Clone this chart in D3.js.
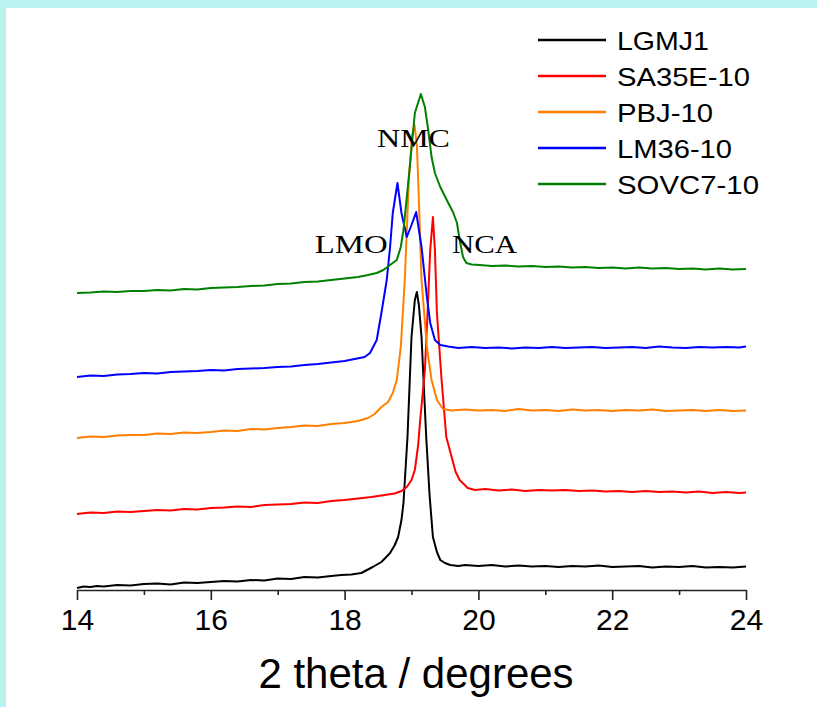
<!DOCTYPE html>
<html>
<head>
<meta charset="utf-8">
<script src="https://cdn.jsdelivr.net/npm/d3@7"></script>
<style>
  body { margin: 0; background: #fff; }
  svg { display: block; }
</style>
</head>
<body>
<svg id="chart" width="817" height="707"></svg>
<script>
// series: [2theta, intensity (arb. units, stacked)]
const lgmj1 = [[14.0,2],[14.1,3.5],[14.2,3],[14.3,4],[14.4,3.5],[14.6,5],[14.8,4.5],[15.0,6],[15.2,6.5],[15.4,5.5],[15.6,7.5],[15.8,7],[16.0,8],[16.2,9],[16.4,8.5],[16.6,10],[16.8,9.5],[17.0,11.5],[17.2,11],[17.4,13],[17.6,12.5],[17.8,14],[17.95,15],[18.1,15.5],[18.25,17],[18.42,23],[18.55,28],[18.68,37],[18.75,45],[18.80,53],[18.85,70],[18.88,87],[18.94,153],[19.0,253],[19.05,290],[19.08,298],[19.11,285],[19.15,253],[19.22,153],[19.27,95],[19.32,53],[19.38,38],[19.43,30],[19.5,27],[19.58,25],[19.7,24],[19.8,25],[20.0,24],[20.2,25],[20.4,23.5],[20.6,24.5],[20.8,23.5],[21.0,24],[21.2,23],[21.4,24],[21.6,23.5],[21.8,24.5],[22.0,23],[22.2,23.5],[22.4,24],[22.6,22.5],[22.8,23.5],[23.0,23],[23.2,24],[23.4,22.5],[23.6,23],[23.8,22.5],[24.0,23.5]];
const sa35e = [[14.0,76],[14.2,77.5],[14.4,77],[14.6,78.5],[14.8,78],[15.0,79],[15.2,80],[15.4,79.5],[15.6,81],[15.8,80.5],[16.0,82],[16.2,82.5],[16.4,83.5],[16.6,83],[16.8,85],[17.0,85.5],[17.2,86],[17.4,87.5],[17.6,87],[17.8,89],[18.0,90],[18.2,91.5],[18.4,93],[18.6,95],[18.75,96.5],[18.85,99],[18.93,103],[19.0,110],[19.05,120],[19.1,145],[19.13,170],[19.2,220],[19.24,277],[19.28,340],[19.32,373],[19.35,340],[19.38,277],[19.45,210],[19.52,153],[19.6,133],[19.66,118],[19.72,110],[19.84,102],[19.95,100],[20.1,101],[20.3,99.5],[20.5,100.5],[20.7,99],[20.9,100],[21.1,99.5],[21.3,100],[21.5,99],[21.7,99.5],[21.9,98.5],[22.1,99],[22.3,98],[22.5,99],[22.7,98],[22.9,98.5],[23.1,97.5],[23.3,98.5],[23.5,97],[23.7,98],[23.9,97],[24.0,97.5]];
const pbj = [[14.0,152],[14.2,153.5],[14.4,153],[14.6,154.5],[14.8,155],[15.0,155],[15.2,156.5],[15.4,156],[15.6,157.5],[15.8,157],[16.0,158],[16.2,159.5],[16.4,159],[16.6,161],[16.8,160.5],[17.0,162],[17.2,163],[17.4,164.5],[17.6,164],[17.8,166],[18.0,167],[18.2,169],[18.35,172],[18.45,176],[18.55,183],[18.65,188],[18.72,197],[18.78,210],[18.84,243],[18.9,310],[18.96,410],[19.01,455],[19.045,465],[19.08,445],[19.1,410],[19.15,310],[19.23,243],[19.3,210],[19.38,190],[19.47,181],[19.6,179.5],[19.8,180.5],[20.0,179.5],[20.2,180],[20.4,179],[20.6,181],[20.8,179.5],[21.0,180],[21.2,179],[21.4,180.5],[21.6,179.5],[21.8,180],[22.0,179],[22.2,180],[22.4,179.5],[22.6,180.5],[22.8,179],[23.0,179.5],[23.2,180],[23.4,179],[23.6,180],[23.8,179],[24.0,179.5]];
const lm36 = [[14.0,213],[14.2,214.5],[14.4,214],[14.6,215.5],[14.8,216],[15.0,217],[15.2,216.5],[15.4,218],[15.6,218.5],[15.8,219],[16.0,220],[16.2,219.5],[16.4,221],[16.6,221.5],[16.8,222],[17.0,223],[17.2,223.5],[17.4,225],[17.6,226],[17.8,227.5],[18.0,229],[18.15,231],[18.3,233],[18.38,237],[18.48,250],[18.55,277],[18.63,310],[18.68,343],[18.72,377],[18.79,407],[18.85,377],[18.93,353],[19.0,365],[19.07,378],[19.15,343],[19.23,293],[19.28,267],[19.35,250],[19.43,245],[19.55,243.5],[19.7,242],[19.9,243],[20.1,242],[20.3,242.5],[20.5,241.5],[20.7,242.5],[20.9,242],[21.1,243],[21.3,242],[21.5,242.5],[21.7,243],[21.9,242],[22.1,242.5],[22.3,243],[22.5,242],[22.7,243.5],[22.9,242.5],[23.1,242],[23.3,243],[23.5,242.5],[23.7,243],[23.9,242.5],[24.0,243.5]];
const sovc7 = [[14.0,297],[14.2,297.5],[14.4,298.5],[14.6,298],[14.8,299],[15.0,299],[15.2,300],[15.4,299.5],[15.6,301],[15.8,300.5],[16.0,302],[16.2,302.5],[16.4,303],[16.6,304],[16.8,304.5],[17.0,306],[17.2,306.5],[17.4,308],[17.6,308.5],[17.8,310],[18.0,311.5],[18.2,313],[18.35,315],[18.48,317],[18.58,320],[18.68,325],[18.78,330],[18.84,343],[18.88,360],[18.93,393],[18.98,427],[19.05,477],[19.14,496],[19.2,483],[19.25,460],[19.3,433],[19.35,417],[19.43,403],[19.55,387],[19.62,378],[19.68,367],[19.72,350],[19.77,333],[19.82,327],[19.9,325.5],[20.02,325],[20.2,324],[20.4,324.5],[20.6,323.5],[20.8,324],[21.0,323],[21.2,323.5],[21.4,322.5],[21.6,323],[21.8,322],[22.0,322.5],[22.2,321.5],[22.4,322.5],[22.6,321.5],[22.8,322],[23.0,321],[23.2,321.5],[23.4,320.5],[23.6,321.5],[23.8,320.5],[24.0,321]];

const seriesNames = ['LGMJ1', 'SA35E-10', 'PBJ-10', 'LM36-10', 'SOVC7-10'];
const seriesColors = ['#000000', '#ff0000', '#ff8000', '#0000ff', '#008000'];
const majorTicks = [14, 16, 18, 20, 22, 24];
const minorTicks = [15, 17, 19, 21, 23];
const peakNames = ['LMO', 'NMC', 'NCA'];
const xTitle = '2 theta / degrees';

const svg = d3.select('#chart');

// page frame
svg.append('rect').attr('width', 817).attr('height', 707).attr('fill', '#fff');
svg.append('rect').attr('width', 817).attr('height', 8).attr('fill', '#b9f2ee');
svg.append('rect').attr('width', 6).attr('height', 707).attr('fill', '#b9f2ee');

const x = d3.scaleLinear().domain([14, 24]).range([77, 746]);
const y = d3.scaleLinear().domain([0, 520]).range([590, 70]);

const line = d3.line()
	.x(d => x(d[0]))
	.y(d => y(d[1]));

const allSeries = [lgmj1, sa35e, pbj, lm36, sovc7];

svg.append('g')
	.selectAll('path')
	.data(allSeries)
	.enter()
	.append('path')
	.attr('d', line)
	.attr('fill', 'none')
	.attr('stroke', (d, i) => seriesColors[i])
	.attr('stroke-width', 2)
	.attr('stroke-linejoin', 'round');

// x axis
const axisG = svg.append('g').attr('transform', 'translate(0,590)');
axisG.call(d3.axisBottom(x).tickValues(majorTicks).tickSize(10).tickSizeOuter(0).tickFormat(d3.format('d')));
axisG.append('g').call(d3.axisBottom(x).tickValues(minorTicks).tickSize(5).tickFormat(''))
	.select('.domain').remove();
axisG.selectAll('.domain').attr('stroke', '#222').attr('stroke-width', 1.6);
axisG.selectAll('.tick line').attr('stroke', '#222').attr('stroke-width', 1.6);
axisG.selectAll('.tick text')
	.attr('fill', '#000')
	.attr('font-family', 'Liberation Sans, Arial, sans-serif')
	.attr('font-size', 30)
	.attr('y', 18.5)
	.attr('dy', '0.71em');

svg.append('text')
	.attr('x', 416)
	.attr('y', 688)
	.attr('text-anchor', 'middle')
	.attr('font-family', 'Liberation Sans, Arial, sans-serif')
	.attr('font-size', 42)
	.attr('fill', '#000')
	.text(xTitle);

// peak labels
const peakPos = [[18.10, 337, 73], [19.03, 443, 73], [20.09, 337, 65]];
svg.append('g')
	.selectAll('text')
	.data(peakNames)
	.enter()
	.append('text')
	.attr('x', (d, i) => x(peakPos[i][0]) - peakPos[i][2] / 2)
	.attr('y', (d, i) => y(peakPos[i][1]))
	.attr('textLength', (d, i) => peakPos[i][2])
	.attr('lengthAdjust', 'spacingAndGlyphs')
	.attr('font-family', 'Liberation Serif, Times New Roman, serif')
	.attr('font-size', 25)
	.attr('fill', '#000')
	.text(d => d);

// legend
const legendWidths = [92, 133, 96, 115, 142];
const legend = svg.append('g')
	.selectAll('g')
	.data(seriesNames)
	.enter()
	.append('g')
	.attr('transform', (d, i) => `translate(538,${40 + i * 36})`);

legend.append('line')
	.attr('x1', 0).attr('x2', 68)
	.attr('stroke', (d, i) => seriesColors[i])
	.attr('stroke-width', 2.5);

legend.append('text')
	.attr('x', 79)
	.attr('y', 9.5)
	.attr('textLength', (d, i) => legendWidths[i])
	.attr('lengthAdjust', 'spacingAndGlyphs')
	.attr('font-family', 'Liberation Sans, Arial, sans-serif')
	.attr('font-size', 26)
	.attr('fill', '#000')
	.text(d => d);
</script>
</body>
</html>
